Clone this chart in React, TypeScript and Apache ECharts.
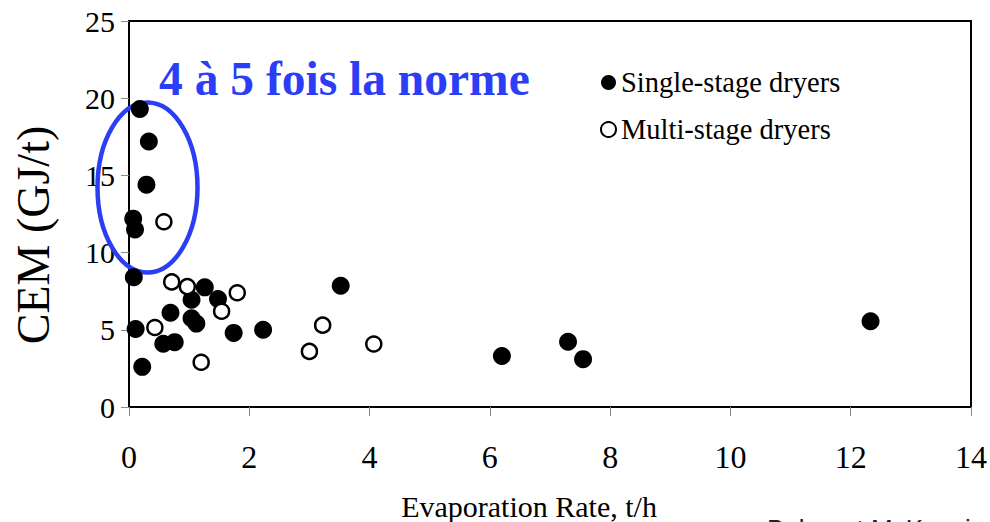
import React, { useEffect, useRef } from "react";
import * as echarts from "echarts";

// Single-stage dryers (filled circles)
const singleX = [0.18, 0.33, 0.29, 0.07, 0.10, 0.08, 1.26, 1.04, 1.48, 0.69, 1.04, 1.12, 0.11, 0.57, 0.76, 1.74, 2.23, 0.22, 3.52, 6.2, 7.3, 7.55, 12.33];
const singleY = [19.3, 17.2, 14.4, 12.2, 11.5, 8.4, 7.75, 6.95, 7.0, 6.1, 5.75, 5.4, 5.05, 4.1, 4.2, 4.8, 5.0, 2.6, 7.85, 3.3, 4.23, 3.1, 5.55];
// Multi-stage dryers (open circles)
const multiX = [0.58, 0.71, 0.97, 1.8, 1.54, 0.43, 1.2, 3.22, 3.0, 4.07];
const multiY = [12.0, 8.1, 7.8, 7.4, 6.2, 5.15, 2.9, 5.3, 3.6, 4.08];

const seriesNames = ["Single-stage dryers", "Multi-stage dryers"];
const xAxisTitle = "Evaporation Rate, t/h";
const yAxisTitle = "CEM (GJ/t)";
const annotation = "4 à 5 fois la norme";
const sourceNote = "Baker et McKenzie";

const SERIF = '"Liberation Serif", "Times New Roman", serif';
const BLUE = "#2b3ef6";

export default function App() {
  const ref = useRef<HTMLDivElement>(null);
  useEffect(() => {
    const chart = echarts.init(ref.current!, null, { renderer: "svg" });
    const single = singleX.map((x, i) => [x, singleY[i]]);
    const multi = multiX.map((x, i) => [x, multiY[i]]);
    chart.setOption({
      animation: false,
      backgroundColor: "#fff",
      grid: {
        left: 129,
        right: 17,
        top: 21,
        bottom: 115,
        show: true,
        borderColor: "#000",
        borderWidth: 2,
        containLabel: false,
      },
      xAxis: {
        type: "value",
        min: 0,
        max: 14,
        interval: 2,
        axisLine: { show: true, lineStyle: { color: "#000", width: 2 } },
        axisTick: { show: true, inside: false, length: 9, lineStyle: { color: "#888", width: 1 } },
        splitLine: { show: false },
        axisLabel: { fontSize: 32, color: "#000", fontFamily: SERIF, margin: 34 },
      },
      yAxis: {
        type: "value",
        min: 0,
        max: 25,
        interval: 5,
        axisLine: { show: true, lineStyle: { color: "#000", width: 2 } },
        axisTick: { show: true, inside: false, length: 8, lineStyle: { color: "#888", width: 1 } },
        splitLine: { show: false },
        axisLabel: { fontSize: 30, color: "#000", fontFamily: SERIF, margin: 14 },
      },
      legend: {
        orient: "vertical",
        left: 595,
        top: 63,
        itemWidth: 15,
        itemHeight: 15,
        itemGap: 18,
        textStyle: { fontSize: 28.5, fontFamily: SERIF, color: "#000" },
        data: [
          { name: seriesNames[0], icon: "circle" },
          { name: seriesNames[1], icon: "circle", itemStyle: { borderWidth: 2 } },
        ],
      },
      series: [
        {
          name: seriesNames[0],
          type: "scatter",
          symbol: "circle",
          symbolSize: 18,
          itemStyle: { color: "#000", opacity: 1 },
          data: single,
          z: 3,
        },
        {
          name: seriesNames[1],
          type: "scatter",
          symbol: "circle",
          symbolSize: 15,
          itemStyle: { color: "#fff", borderColor: "#000", borderWidth: 2.5, opacity: 1 },
          data: multi,
          z: 4,
        },
      ],
      graphic: [
        {
          type: "ellipse",
          shape: { cx: 147.5, cy: 187.5, rx: 50, ry: 85 },
          style: { fill: "none", stroke: BLUE, lineWidth: 4.5 },
          z: 1,
        },
        {
          type: "text",
          x: 159,
          y: 55,
          style: { text: annotation, font: `bold 47.5px ${SERIF}`, fill: BLUE, verticalAlign: "top" },
          z: 5,
        },
        {
          type: "text",
          x: 33,
          y: 235,
          rotation: Math.PI / 2,
          style: { text: yAxisTitle, font: `46px ${SERIF}`, fill: "#000", align: "center", verticalAlign: "middle" },
        },
        {
          type: "text",
          x: 529,
          y: 506,
          style: { text: xAxisTitle, font: `30px ${SERIF}`, fill: "#000", align: "center", verticalAlign: "middle" },
        },
        {
          type: "text",
          x: 767,
          y: 516,
          style: { text: sourceNote, font: '26px "Liberation Sans", Arial, sans-serif', fill: "#222", verticalAlign: "top" },
        },
      ],
    });
    return () => chart.dispose();
  }, []);
  return <div ref={ref} style={{ position: "absolute", left: 0, top: 0, width: 990, height: 522 }} />;
}
